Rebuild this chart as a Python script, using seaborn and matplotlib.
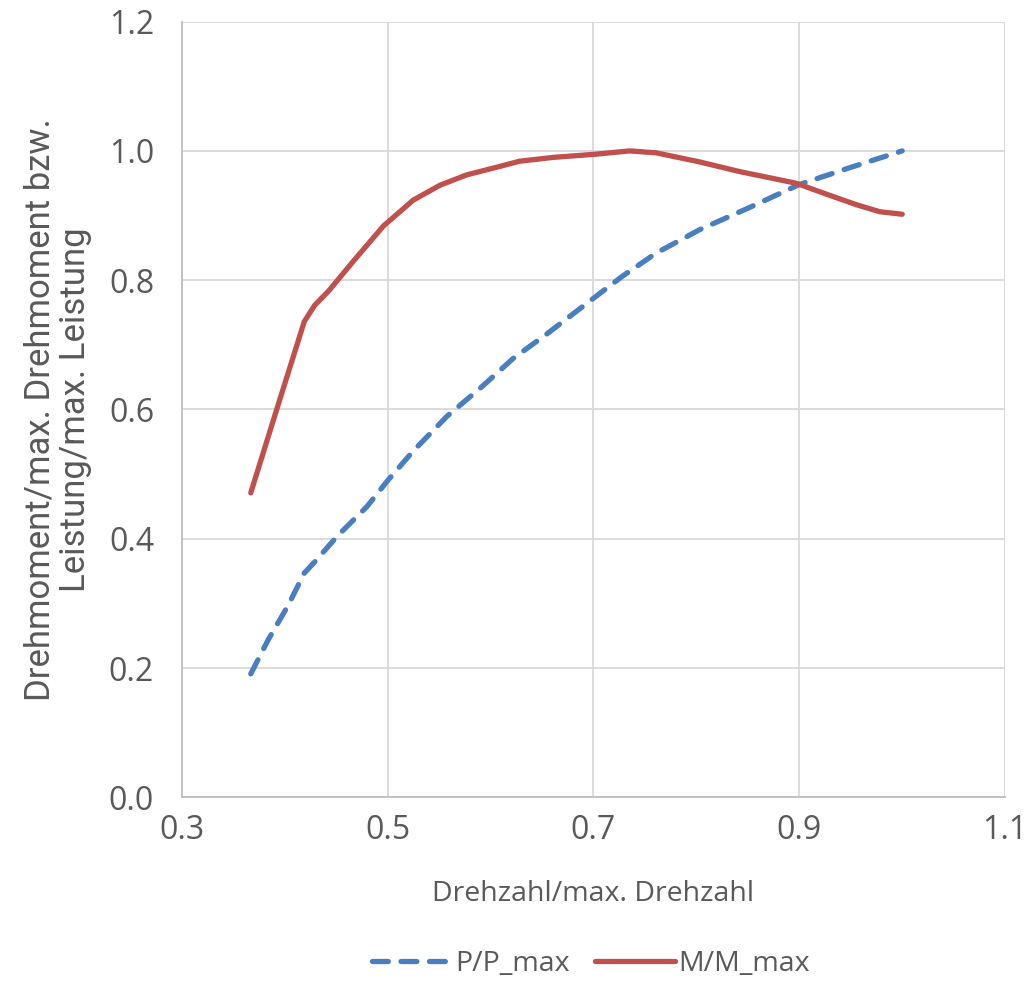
import numpy as np
import pandas as pd
import matplotlib
matplotlib.use('Agg')
import matplotlib.pyplot as plt
import seaborn as sns

# values
n_m = [0.367, 0.392, 0.419, 0.429, 0.443, 0.467, 0.496, 0.525, 0.551, 0.577, 0.609, 0.628,
       0.661, 0.703, 0.735, 0.761, 0.803, 0.842, 0.897, 0.923, 0.955, 0.978, 1.0]
m_rel = [0.471, 0.599, 0.736, 0.761, 0.784, 0.830, 0.884, 0.924, 0.947, 0.963, 0.976, 0.984,
         0.990, 0.995, 1.000, 0.997, 0.983, 0.968, 0.950, 0.935, 0.917, 0.906, 0.902]

n_p = [0.367, 0.384, 0.403, 0.419, 0.429, 0.451, 0.480, 0.500, 0.525, 0.558, 0.590, 0.622,
       0.654, 0.700, 0.728, 0.761, 0.803, 0.851, 0.900, 0.949, 1.0]
p_rel = [0.191, 0.244, 0.296, 0.347, 0.364, 0.404, 0.450, 0.490, 0.536, 0.590, 0.633, 0.679,
         0.716, 0.772, 0.806, 0.842, 0.878, 0.912, 0.948, 0.974, 1.0]

x_ticks = [0.3, 0.5, 0.7, 0.9, 1.1]
y_ticks = [0.0, 0.2, 0.4, 0.6, 0.8, 1.0, 1.2]

sns.set_style('white')
plt.rcParams['font.family'] = ['Open Sans', 'DejaVu Sans']

gray_text = '#595959'
grid_col = '#D9D9D9'

fig = plt.figure(figsize=(10.33, 9.82), dpi=100)
ax = fig.add_axes([0.176, 0.188, 0.797, 0.790])

sns.lineplot(x=n_p, y=p_rel, ax=ax, color='#4A7EC0', linewidth=3.8,
             dashes=(3, 2.4), dash_capstyle='round', label='P/P_max')
sns.lineplot(x=n_m, y=m_rel, ax=ax, color='#C0504D', linewidth=3.8,
             solid_capstyle='round', solid_joinstyle='round', label='M/M_max')

ax.set_xlim(0.3, 1.1)
ax.set_ylim(0.0, 1.2)
ax.set_xticks(x_ticks)
ax.set_yticks(y_ticks)
ax.set_xticklabels([f'{v:.1f}' for v in x_ticks])
ax.set_yticklabels([f'{v:.1f}' for v in y_ticks])
ax.tick_params(axis='both', length=0, labelsize=23, labelcolor=gray_text)
ax.tick_params(axis='x', pad=12)
ax.tick_params(axis='y', pad=20)

ax.grid(True, color=grid_col, linewidth=1.3)
ax.set_axisbelow(True)
for s in ['top', 'right']:
    ax.spines[s].set_visible(False)
for s in ['left', 'bottom']:
    ax.spines[s].set_color('#BFBFBF')
    ax.spines[s].set_linewidth(1.3)

ax.set_xlabel('Drehzahl/max. Drehzahl', fontsize=20.5, color=gray_text, labelpad=24)
ax.set_ylabel('Drehmoment/max. Drehmoment bzw.\nLeistung/max. Leistung', fontsize=25,
              color=gray_text, labelpad=12, linespacing=1.1,
              family=['Roboto', 'DejaVu Sans'])

ax.legend(loc='lower center', bbox_to_anchor=(0.572, -0.022), bbox_transform=fig.transFigure,
          ncol=2, frameon=False, fontsize=20.5, handlelength=2.8, columnspacing=0.9,
          handletextpad=0.1, labelcolor=gray_text)

fig.savefig('out.png', dpi=100)
